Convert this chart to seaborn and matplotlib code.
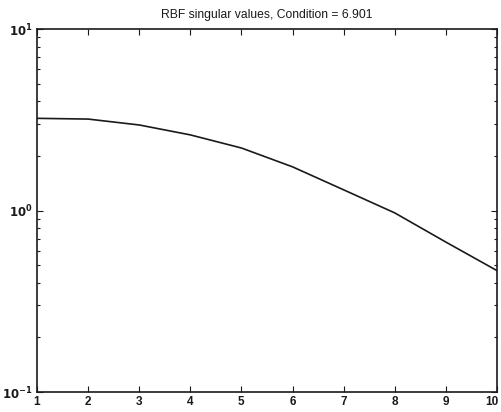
import seaborn as sns
import pandas as pd
import matplotlib.pyplot as plt
import matplotlib.transforms as mtrans

# singular values
index = [1, 2, 3, 4, 5, 6, 7, 8, 9, 10]
sing_vals = [3.22, 3.19, 2.96, 2.61, 2.21, 1.74, 1.30, 0.97, 0.67, 0.4666]
title = "RBF singular values, Condition = 6.901"

data = pd.DataFrame({"k": index, "s": sing_vals})

sns.set_style("ticks")
plt.rcParams['font.family'] = ['Liberation Sans', 'DejaVu Sans']

fig = plt.figure(figsize=(5.02, 4.12), dpi=100)
ax = fig.add_axes([0.0737, 0.0485, 0.9163, 0.8811])

sns.lineplot(x="k", y="s", data=data, ax=ax, color="#1a1a1a", linewidth=1.2)
ax.set_yscale("log")
ax.set_xlim(1, 10)
ax.set_ylim(0.1, 10)
ax.set_xticks(index)
ax.set_xticklabels([str(i) for i in index], fontsize=8.5, fontweight='bold')
ax.set_yticks([0.1, 1, 10])
ax.set_yticklabels([r'$\mathbf{10^{-1}}$', r'$\mathbf{10^{0}}$', r'$\mathbf{10^{1}}$'], fontsize=8.5)
ax.set_xlabel("")
ax.set_ylabel("")
ax.tick_params(which='both', direction='in', top=True, right=True, width=0.8, colors='#1a1a1a')
ax.tick_params(which='major', length=4, pad=3)
ax.tick_params(which='minor', length=2.5)
for sp in ax.spines.values():
    sp.set_linewidth(1.2)
    sp.set_color('#1a1a1a')
    sp.set_visible(True)
ax.set_title(title, fontsize=8.7, pad=8, color='#1a1a1a')

# keep the "10" label inside the canvas
last = ax.get_xticklabels()[-1]
last.set_transform(last.get_transform() + mtrans.ScaledTranslation(-4 / 72, 0, fig.dpi_scale_trans))

plt.savefig('out.png', dpi=100)
